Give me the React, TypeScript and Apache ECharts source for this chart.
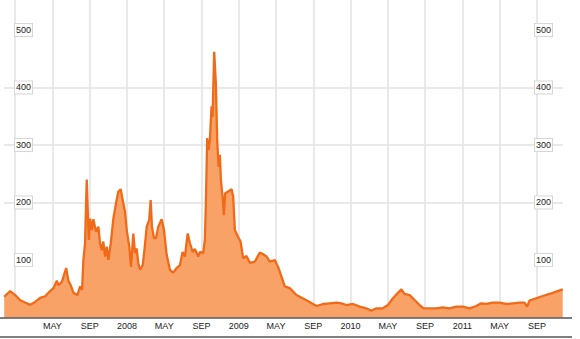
import React, { useEffect, useRef } from "react";
import * as echarts from "echarts";

// x = months since Jan 2007 (fractional), y = value
const months: number[] = [
  -1.18, -0.54, 0, 0.54, 1.07, 1.61, 2.14, 2.68, 3.22, 3.75, 4.11, 4.47, 4.64, 5.01, 5.47, 5.71, 5.97, 6.25, 6.68, 6.97,
  7.18, 7.32, 7.5, 7.68, 7.79, 7.9, 8.04, 8.22, 8.39, 8.68, 8.93, 9.11, 9.29, 9.46, 9.65, 9.83, 10.0, 10.26, 10.54, 10.83,
  11.07, 11.33, 11.54, 11.79, 11.97, 12.25, 12.43, 12.68, 12.86, 13.04, 13.22, 13.4, 13.69, 13.93, 14.12, 14.39, 14.54, 14.68, 14.9, 15.11,
  15.36, 15.72, 15.97, 16.26, 16.61, 16.97, 17.33, 17.68, 17.97, 18.22, 18.51, 18.76, 19.05, 19.29, 19.65, 19.83, 20.18, 20.36, 20.47, 20.61,
  20.76, 20.9, 21.08, 21.19, 21.36, 21.54, 21.68, 21.83, 21.97, 22.08, 22.26, 22.4, 22.54, 22.86, 23.23, 23.4, 23.58, 23.93, 24.19, 24.47,
  24.83, 25.19, 25.72, 26.26, 26.61, 26.98, 27.33, 27.87, 28.22, 28.58, 28.94, 29.47, 30.19, 31.26, 32.34, 33.04, 33.76, 34.48, 35.02, 35.55,
  36.26, 36.98, 37.69, 38.23, 38.77, 39.47, 40.01, 40.55, 41.08, 41.45, 41.8, 42.34, 42.87, 43.41, 43.84, 44.48, 45.2, 45.9, 46.62, 47.34,
  48.05, 48.77, 49.48, 50.02, 50.56, 51.27, 51.98, 52.7, 53.41, 54.13, 54.66, 54.95, 55.2, 55.92, 56.63, 57.34, 58.06, 58.77,
];

const values: number[] = [
  36, 46, 39, 30, 26, 22, 27, 34, 37, 46, 51, 64, 56, 62, 86, 64, 56, 43, 39, 54,
  48, 100, 129, 240, 187, 135, 172, 152, 171, 149, 158, 129, 117, 132, 106, 123, 100, 129, 172, 199,
  219, 223, 204, 184, 152, 123, 88, 146, 112, 120, 94, 83, 91, 126, 158, 170, 204, 158, 138, 138,
  158, 171, 152, 109, 83, 78, 86, 91, 114, 106, 146, 129, 114, 119, 106, 114, 112, 135, 199, 312,
  291, 309, 367, 349, 462, 407, 309, 262, 283, 239, 210, 178, 216, 219, 223, 210, 152, 140, 132, 103,
  107, 95, 97, 113, 110, 106, 97, 100, 88, 71, 54, 51, 39, 30, 20, 23.5, 24.7, 25.7, 24.7, 21.7,
  23.5, 18.8, 16, 11.8, 16, 16, 21.7, 33.4, 43, 49, 41, 39, 30.4, 21.7, 16, 16, 16, 17.7, 16, 18.8,
  18.8, 16, 20, 24.7, 23.5, 25.7, 25.7, 23.5, 24.7, 25.7, 25.7, 18.8, 29.2, 33.4, 37.4, 40.9, 44.9, 49,
];

const xTickMonths: number[] = [0, 4, 8, 12, 16, 20, 24, 28, 32, 36, 40, 44, 48, 52, 56];
const xLabelMonths: number[] = [4, 8, 12, 16, 20, 24, 28, 32, 36, 40, 44, 48, 52, 56];
const monthNames: Record<number, string> = { 4: "MAY", 8: "SEP" };
const startYear = 2007;
const yTicks: number[] = [100, 200, 300, 400, 500];

const X_MIN = -1.2;
const X_MAX = 58.8;
const Y_MAX = 552;

const FONT = "'Liberation Sans', Arial, sans-serif";

export default function App() {
  const ref = useRef<HTMLDivElement>(null);

  useEffect(() => {
    if (!ref.current) return;
    const chart = echarts.init(ref.current, undefined, { renderer: "svg" });

    const data = months.map((m, i) => [m, values[i]]);

    const xLabel = (v: number) => {
      const r = Math.round(v);
      const mod = ((r % 12) + 12) % 12;
      if (mod === 0) return String(startYear + r / 12);
      return monthNames[mod] || "";
    };

    const yLabelStyle = {
      fontFamily: FONT,
      fontSize: 9,
      color: "#222",
      backgroundColor: "#fff",
      borderColor: "#d6d6d6",
      borderWidth: 1,
      padding: [1, 1, 1, 1],
      lineHeight: 10,
    };

    chart.setOption({
      animation: false,
      grid: { left: 4, right: 17, top: 0, bottom: 21.5, containLabel: false },
      xAxis: {
        type: "value",
        min: X_MIN,
        max: X_MAX,
        axisLine: { show: false },
        axisTick: { show: false, customValues: xTickMonths },
        axisLabel: {
          customValues: xLabelMonths,
          formatter: xLabel,
          fontFamily: FONT,
          fontSize: 9,
          color: "#222",
          margin: 4,
        },
        splitLine: { show: true, lineStyle: { color: "#e2e2e2", width: 1.5 } },
      },
      yAxis: [
        {
          type: "value",
          min: 0,
          max: Y_MAX,
          position: "left",
          axisLine: { show: false },
          axisTick: { show: false, customValues: yTicks },
          axisLabel: { inside: true, margin: 11, customValues: yTicks, ...yLabelStyle },
          splitLine: {
            show: true,
            showMinLine: false,
            showMaxLine: false,
            lineStyle: { color: "#e2e2e2", width: 1.5 },
          },
        },
        {
          type: "value",
          min: 0,
          max: Y_MAX,
          position: "right",
          axisLine: { show: false },
          axisTick: { show: false, customValues: yTicks },
          axisLabel: { inside: true, margin: 11, customValues: yTicks, ...yLabelStyle },
          splitLine: { show: false },
        },
      ],
      series: [
        {
          type: "line",
          data,
          showSymbol: false,
          symbol: "none",
          lineStyle: { color: "#f06a18", width: 2.3 },
          areaStyle: { color: "#f9a267", opacity: 1, origin: "start" },
          z: 3,
        },
      ],
      graphic: [
        {
          type: "line",
          shape: { x1: 0, y1: 318, x2: 572, y2: 318 },
          style: { stroke: "#555", lineWidth: 1.5 },
          z: 10,
        },
        {
          type: "line",
          shape: { x1: 0, y1: 337, x2: 572, y2: 337 },
          style: { stroke: "#555", lineWidth: 1.5 },
          z: 10,
        },
      ],
    });

    return () => chart.dispose();
  }, []);

  return (
    <div
      ref={ref}
      style={{ position: "fixed", left: 0, top: 0, width: 580, height: 339, background: "#fff" }}
    />
  );
}
